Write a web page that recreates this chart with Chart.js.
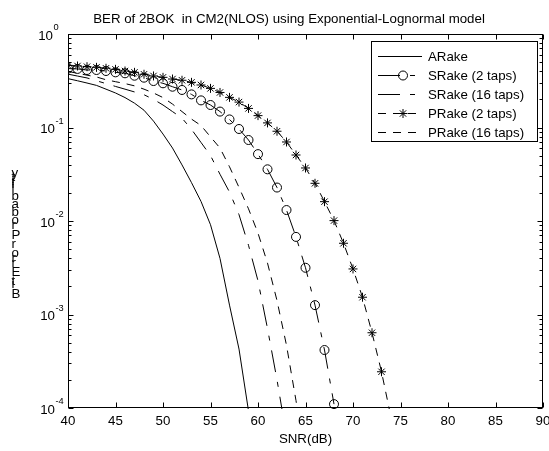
<!DOCTYPE html>
<html>
<head>
<meta charset="utf-8">
<script src="https://cdn.jsdelivr.net/npm/chart.js@4.4.1/dist/chart.umd.min.js"></script>
<style>
    html, body { margin: 0; padding: 0; background: #fff; }
    canvas { display: block; }
</style>
</head>
<body>
<canvas id="berChart" width="549" height="451"></canvas>
<script>
    // SNR grid (dB) shared by all curves
    const snr = [40, 41, 42, 43, 44, 45, 46, 47, 48, 49, 50, 51, 52, 53, 54, 55, 56, 57,
        58, 59, 60, 61, 62, 63, 64, 65, 66, 67, 68, 69, 70, 71, 72, 73, 74];

    // BER, one value per SNR step starting at 40 dB
    const berARake = [0.333, 0.316, 0.299, 0.282, 0.257, 0.234, 0.209, 0.182, 0.153, 0.117,
        0.0851, 0.0603, 0.0398, 0.0257, 0.0162, 0.00912, 0.00398, 0.00126, 0.000427, 0.0000933];
    const berSRake2 = [0.427, 0.423, 0.412, 0.412, 0.402, 0.389, 0.380, 0.358, 0.341, 0.314,
        0.297, 0.273, 0.252, 0.226, 0.195, 0.174, 0.148, 0.122, 0.0964, 0.0735,
        0.0519, 0.0357, 0.0228, 0.0131, 0.00676, 0.00316, 0.00126, 0.000417, 0.000110];
    const berSRake16 = [0.372, 0.355, 0.339, 0.316, 0.295, 0.275, 0.257, 0.240, 0.224, 0.200,
        0.174, 0.148, 0.126, 0.0955, 0.0692, 0.0501, 0.0316, 0.0204, 0.0117, 0.00550,
        0.00229, 0.000708, 0.000200, 0.0000501];
    const berPRake2 = [0.462, 0.455, 0.447, 0.440, 0.430, 0.419, 0.402, 0.389, 0.371, 0.356,
        0.344, 0.330, 0.320, 0.304, 0.285, 0.262, 0.237, 0.210, 0.187, 0.160,
        0.134, 0.112, 0.0912, 0.0700, 0.0508, 0.0369, 0.0253, 0.0161, 0.0101, 0.00578,
        0.00307, 0.00153, 0.000638, 0.000244, 0.0000794];
    const berPRake16 = [0.398, 0.380, 0.363, 0.347, 0.324, 0.309, 0.295, 0.279, 0.257, 0.234,
        0.209, 0.178, 0.148, 0.123, 0.105, 0.0794, 0.0603, 0.0380, 0.0229, 0.0135,
        0.00741, 0.00355, 0.00141, 0.000468, 0.000120, 0.0000251];

    const seriesNames = ['ARake', 'SRake (2 taps)', 'SRake (16 taps)', 'PRake (2 taps)', 'PRake (16 taps)'];
    const xTicks = [40, 45, 50, 55, 60, 65, 70, 75, 80, 85, 90];
    const yDecades = [1, 0.1, 0.01, 0.001, 0.0001];
    const yExponents = ['0', '-1', '-2', '-3', '-4'];
    const titleText = 'BER of 2BOK  in CM2(NLOS) using Exponential-Lognormal model';
    const xTitle = 'SNR(dB)';
    const yTitle = 'Bit Error Probability';

    const FONT = '"Liberation Sans", Arial, sans-serif';
    const DASH_DOT = [22, 10, 5, 10];
    const DASHED = [8, 7];

    function points(values) {
        return values.map((v, i) => ({ x: snr[i], y: v }));
    }

    function drawMarker(ctx, style, cx, cy, r) {
        ctx.save();
        ctx.setLineDash([]);
        ctx.lineWidth = 1;
        ctx.strokeStyle = '#000';
        ctx.beginPath();
        if (style === 'circle') {
            ctx.arc(cx, cy, r, 0, Math.PI * 2);
        } else if (style === 'star') {
            const d = r * Math.SQRT1_2;
            ctx.moveTo(cx - r, cy); ctx.lineTo(cx + r, cy);
            ctx.moveTo(cx, cy - r); ctx.lineTo(cx, cy + r);
            ctx.moveTo(cx - d, cy - d); ctx.lineTo(cx + d, cy + d);
            ctx.moveTo(cx - d, cy + d); ctx.lineTo(cx + d, cy - d);
        }
        ctx.stroke();
        ctx.restore();
    }

    const lineStyles = [
        { borderDash: [], pointStyle: false },
        { borderDash: DASH_DOT, pointStyle: 'circle' },
        { borderDash: DASH_DOT, pointStyle: false },
        { borderDash: DASHED, pointStyle: 'star' },
        { borderDash: DASHED, pointStyle: false }
    ];
    const seriesData = [berARake, berSRake2, berSRake16, berPRake2, berPRake16];

    const datasets = seriesData.map((values, i) => ({
        label: seriesNames[i],
        data: points(values),
        borderColor: '#000',
        borderWidth: 1,
        borderDash: lineStyles[i].borderDash,
        backgroundColor: 'rgba(0,0,0,0)',
        fill: false,
        tension: 0,
        pointStyle: lineStyles[i].pointStyle || 'circle',
        pointRadius: lineStyles[i].pointStyle ? 4.5 : 0,
        pointHoverRadius: 0,
        pointBorderColor: '#000',
        pointBorderWidth: 1,
        pointBackgroundColor: 'rgba(0,0,0,0)',
        clip: { left: 0, top: 6, right: 0, bottom: 1 }
    }));

    const matlabAxes = {
        id: 'matlabAxes',
        afterDatasetsDraw(chart) {
            const { ctx, chartArea: a, scales: { x, y } } = chart;
            const L = Math.round(a.left) + 0.5, R = Math.round(a.right) - 0.5;
            const T = Math.round(a.top) + 0.5, B = Math.round(a.bottom) - 0.5;
            ctx.save();
            ctx.strokeStyle = '#000';
            ctx.lineWidth = 1;
            ctx.setLineDash([]);
            ctx.beginPath();
            xTicks.forEach(v => {
                const px = Math.round(x.getPixelForValue(v)) + 0.5;
                ctx.moveTo(px, B); ctx.lineTo(px, B - 5);
                ctx.moveTo(px, T); ctx.lineTo(px, T + 5);
            });
            yDecades.forEach(d => {
                const py = Math.round(y.getPixelForValue(d)) + 0.5;
                ctx.moveTo(L, py); ctx.lineTo(L + 5, py);
                ctx.moveTo(R, py); ctx.lineTo(R - 5, py);
                if (d < 1) {
                    for (let m = 2; m <= 9; m++) {
                        const my = Math.round(y.getPixelForValue(d * m)) + 0.5;
                        ctx.moveTo(L, my); ctx.lineTo(L + 3, my);
                        ctx.moveTo(R, my); ctx.lineTo(R - 3, my);
                    }
                }
            });
            ctx.stroke();
            ctx.strokeRect(L, T, R - L, B - T);

            ctx.fillStyle = '#000';
            // x tick labels
            ctx.font = `13.3px ${FONT}`;
            ctx.textAlign = 'center';
            ctx.textBaseline = 'alphabetic';
            xTicks.forEach(v => ctx.fillText(String(v), x.getPixelForValue(v), a.bottom + 17));
            // y tick labels, 10 with a raised exponent
            yDecades.forEach((d, i) => {
                const py = y.getPixelForValue(d);
                const right = a.left - (yExponents[i] === '0' ? 15 : 13);
                ctx.font = `13.3px ${FONT}`;
                ctx.textAlign = 'right';
                ctx.fillText('10', right, py + 5.5);
                ctx.font = `9.3px ${FONT}`;
                ctx.textAlign = 'left';
                ctx.fillText(yExponents[i], right + 0.5, py - 4);
            });
            ctx.restore();
        },
        afterDraw(chart) {
            const { ctx, chartArea: a } = chart;
            ctx.save();
            ctx.fillStyle = '#000';
            ctx.font = `13.3px ${FONT}`;
            ctx.textBaseline = 'alphabetic';
            ctx.textAlign = 'center';
            ctx.fillText(titleText, 289, 23);
            ctx.fillText(xTitle, (a.left + a.right) / 2, a.bottom + 35);

            // y label: glyphs stay upright but advance upward, as in the reference
            ctx.textAlign = 'left';
            let yy = 298;
            for (const ch of yTitle) {
                ctx.fillText(ch, 11.5, yy);
                yy -= ctx.measureText(ch).width * 1.12;
            }

            // legend box
            const bx = 371.5, by = 41.5, bw = 166, bh = 100;
            ctx.fillStyle = '#fff';
            ctx.fillRect(bx, by, bw, bh);
            ctx.strokeStyle = '#000';
            ctx.lineWidth = 1;
            ctx.strokeRect(bx, by, bw, bh);
            ctx.fillStyle = '#000';
            ctx.textBaseline = 'middle';
            chart.data.datasets.forEach((ds, i) => {
                const ly = Math.round(56 + i * 19) + 0.5;
                ctx.save();
                ctx.beginPath();
                ctx.rect(377, ly - 3, 45, 6);
                ctx.clip();
                ctx.setLineDash(ds.borderDash);
                ctx.beginPath();
                ctx.moveTo(378, ly);
                ctx.lineTo(422, ly);
                ctx.stroke();
                ctx.restore();
                if (ds.pointRadius > 0) drawMarker(ctx, ds.pointStyle, 403, ly, ds.pointRadius);
                ctx.fillText(ds.label, 428, ly + 1);
            });
            ctx.restore();
        }
    };

    new Chart(document.getElementById('berChart'), {
        type: 'line',
        data: { datasets },
        options: {
            responsive: false,
            animation: false,
            devicePixelRatio: 1,
            layout: { padding: { left: 68, top: 34, right: 6, bottom: 43 } },
            plugins: { legend: { display: false }, tooltip: { enabled: false }, title: { display: false } },
            scales: {
                x: { type: 'linear', min: 40, max: 90, display: false },
                y: { type: 'logarithmic', min: 0.0001, max: 1, display: false }
            }
        },
        plugins: [matlabAxes]
    });
</script>
</body>
</html>
